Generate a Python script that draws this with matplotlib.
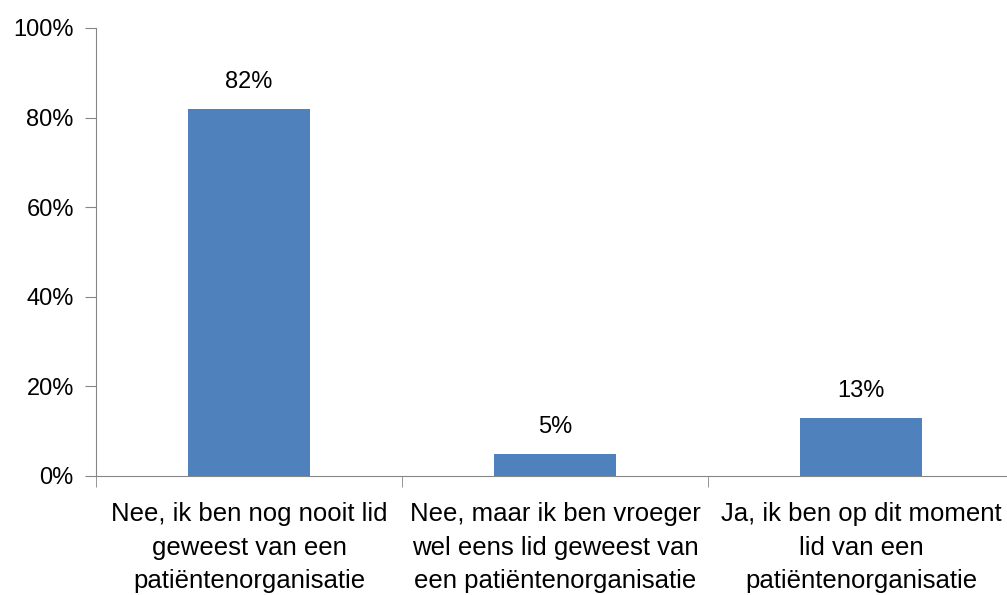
import matplotlib.pyplot as plt
import numpy as np

plt.rcParams['font.family'] = ['Liberation Sans', 'DejaVu Sans']

categories = ["Nee, ik ben nog nooit lid\ngeweest van een\npatiëntenorganisatie",
              "Nee, maar ik ben vroeger\nwel eens lid geweest van\neen patiëntenorganisatie",
              "Ja, ik ben op dit moment\nlid van een\npatiëntenorganisatie"]
values = [82, 5, 13]
yticks = [0, 20, 40, 60, 80, 100]

fig = plt.figure(figsize=(10.07, 5.95), dpi=100)
# axes runs a little past the right edge, like the original
ax = fig.add_axes([96 / 1007, 1 - 476 / 595, 918 / 1007, 448 / 595])

x = np.arange(len(values))
ax.bar(x, values, width=0.4, color='#4F81BD')
for xi, v in zip(x, values):
    ax.annotate(f"{v}%", (xi, v), xytext=(0, 11), textcoords='offset points',
                ha='center', va='bottom', fontsize=17)

ax.set_xlim(-0.5, len(values) - 0.5)
ax.set_ylim(0, 100)
ax.set_yticks(yticks)
ax.set_yticklabels([f"{t}%" for t in yticks], fontsize=17)

ax.set_xticks(x)
ax.set_xticklabels(categories, fontsize=18.5, linespacing=1.5)
ax.tick_params(axis='x', length=0, pad=19)
ax.set_xticks(np.arange(len(values) + 1) - 0.5, minor=True)
ax.tick_params(axis='x', which='minor', length=8, color='#868686')
ax.tick_params(axis='y', length=8, color='#868686', pad=8)

for s in ['top', 'right']:
    ax.spines[s].set_visible(False)
for s in ['left', 'bottom']:
    ax.spines[s].set_color('#868686')

fig.savefig('out.png', dpi=100)
